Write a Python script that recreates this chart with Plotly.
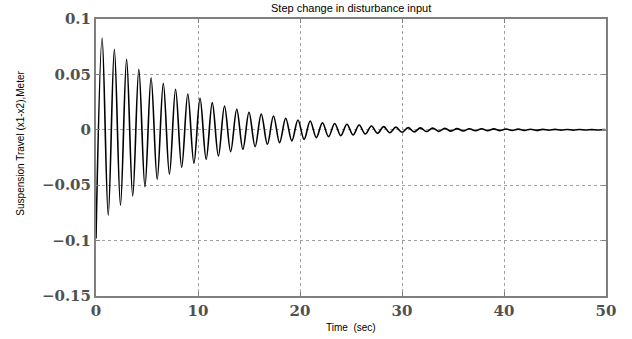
import plotly.graph_objects as go

# Extrema of the response (time in s, travel in m)
t_ext = [0.0, 0.6, 1.2, 1.8, 2.4, 3.0, 3.6, 4.2, 4.8, 5.4,
         6.0, 6.6, 7.2, 7.8, 8.4, 9.0, 9.6, 10.2, 10.8, 11.4,
         12.0, 12.6, 13.2, 13.8, 14.4, 15.0, 15.6, 16.2, 16.8, 17.4,
         18.0, 18.6, 19.2, 19.8, 20.4, 21.0, 21.6, 22.2, 22.8, 23.4,
         24.0, 24.6, 25.2, 25.8, 26.4, 27.0, 27.6, 28.2, 28.8, 29.4,
         30.0, 30.6, 31.2, 31.8, 32.4, 33.0, 33.6, 34.2, 34.8, 35.4,
         36.0, 36.6, 37.2, 37.8, 38.4, 39.0, 39.6, 40.2, 40.8, 41.4,
         42.0, 42.6, 43.2, 43.8, 44.4, 45.0, 45.6, 46.2, 46.8, 47.4,
         48.0, 48.6, 49.2, 49.8, 50.0]
y_ext = [-0.098, 0.0826, -0.077, 0.0727, -0.068, 0.0636, -0.0597, 0.0546, -0.0513, 0.047,
         -0.0447, 0.042, -0.040, 0.0366, -0.0338, 0.0323, -0.0302, 0.0284, -0.0266, 0.0245,
         -0.0236, 0.0215, -0.0197, 0.0185, -0.0176, 0.0158, -0.0152, 0.0143, -0.0131, 0.0125,
         -0.0116, 0.0104, -0.0100, 0.0088, -0.0086, 0.0080, -0.0071, 0.0064, -0.0062, 0.0057,
         -0.0054, 0.0050, -0.0047, 0.0043, -0.0038, 0.0034, -0.0032, 0.0029, -0.0026, 0.0024,
         -0.0022, 0.0020, -0.0019, 0.0017, -0.0016, 0.0015, -0.0014, 0.0013, -0.0012, 0.0011,
         -0.0011, 0.0010, -0.0009, 0.0009, -0.0008, 0.0008, -0.0007, 0.0007, -0.0006, 0.0006,
         -0.0005, 0.0005, -0.0005, 0.0004, -0.0004, 0.0004, -0.0003, 0.0003, -0.0003, 0.0003,
         -0.0002, 0.0002, -0.0002, 0.0002, 0.0]

x_ticks = [0, 10, 20, 30, 40, 50]
x_tick_labels = ["0", "10", "20", "30", "40", "50"]
y_ticks = [0.1, 0.05, 0, -0.05, -0.1, -0.15]
y_tick_labels = ["0.1", "0.05", "0", "\u22120.05", "\u22120.1", "\u22120.15"]

fig = go.Figure()
fig.add_trace(go.Scatter(
    x=t_ext, y=y_ext, mode="lines",
    line=dict(color="black", width=1.6, shape="spline", smoothing=1.0),
    showlegend=False, hoverinfo="skip",
))

axis_common = dict(
    showline=True, mirror="ticks", linecolor="#7f7f7f", linewidth=2,
    ticks="inside", ticklen=4, tickcolor="#7f7f7f", tickwidth=1,
    showgrid=True, gridcolor="#a0a0a0", gridwidth=1, griddash="dot",
    zeroline=False, automargin=False,
    tickfont=dict(family="DejaVu Serif", size=15, color="#505050", weight=700),
)

fig.update_layout(
    width=632, height=339,
    margin=dict(l=96, r=26, t=19, b=43),
    paper_bgcolor="white", plot_bgcolor="white",
    xaxis=dict(range=[0, 50], tickvals=x_ticks, ticktext=x_tick_labels, **axis_common),
    yaxis=dict(range=[-0.15, 0.1], tickvals=y_ticks, ticktext=y_tick_labels, **axis_common),
    annotations=[
        dict(text="Step change in disturbance input", xref="paper", yref="paper",
             x=0.5, y=1.0, yshift=3, xanchor="center", yanchor="bottom", showarrow=False,
             font=dict(family="Liberation Sans", size=11, color="black")),
        dict(text="Time  (sec)", xref="paper", yref="paper",
             x=0.5, y=0, yshift=-24, xanchor="center", yanchor="top", showarrow=False,
             font=dict(family="Liberation Sans", size=10, color="black")),
        dict(text="Suspension Travel (x1-x2),Meter", xref="paper", yref="paper",
             x=0, xshift=-75, y=0.55, xanchor="center", yanchor="middle", textangle=-90,
             showarrow=False,
             font=dict(family="Liberation Sans", size=10, color="black")),
    ],
)

fig.write_html("out.html", config={"displayModeBar": False},
               post_script="document.body.style.margin='0';")
